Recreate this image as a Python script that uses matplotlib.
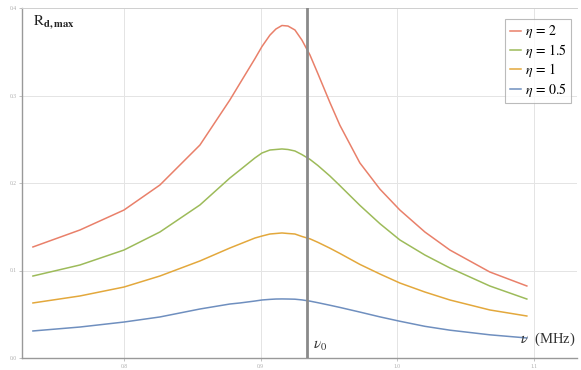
import matplotlib
matplotlib.use("Agg")
import matplotlib.pyplot as plt

plt.rcParams['font.family'] = ['Liberation Serif', 'DejaVu Serif']
plt.rcParams['mathtext.fontset'] = 'stix'

nu = [0.7334, 0.7678, 0.8, 0.8263, 0.8556, 0.8775, 0.8849, 0.8958, 0.9010, 0.9068,
      0.9112, 0.9156, 0.9200, 0.9251, 0.9302, 0.9361, 0.9419, 0.9507, 0.9580, 0.9726,
      0.9873, 1.0019, 1.0202, 1.0385, 1.0677, 1.0948]
r_eta2 = [0.1269, 0.1463, 0.1691, 0.1977, 0.2434, 0.2949, 0.3140, 0.3420, 0.3560, 0.3690,
          0.3760, 0.3800, 0.3794, 0.3749, 0.3634, 0.3463, 0.3250, 0.2920, 0.2660, 0.2230,
          0.1930, 0.1691, 0.1440, 0.1234, 0.0983, 0.0823]
r_eta15 = [0.0937, 0.1063, 0.1234, 0.1440, 0.1749, 0.2057, 0.2149, 0.2286, 0.2343, 0.2377,
           0.2383, 0.2389, 0.2383, 0.2366, 0.2325, 0.2270, 0.2200, 0.2080, 0.1970, 0.1745,
           0.1535, 0.1349, 0.1177, 0.1029, 0.0823, 0.0674]
r_eta1 = [0.0629, 0.0709, 0.0811, 0.0937, 0.1109, 0.1257, 0.1303, 0.1371, 0.1394, 0.1417,
          0.1423, 0.1429, 0.1423, 0.1417, 0.1389, 0.1362, 0.1322, 0.1255, 0.1195, 0.1070,
          0.0960, 0.0857, 0.0754, 0.0663, 0.0549, 0.0480]
r_eta05 = [0.0309, 0.0354, 0.0411, 0.0469, 0.0560, 0.0617, 0.0629, 0.0651, 0.0663, 0.0670,
           0.0674, 0.0675, 0.0674, 0.0672, 0.0664, 0.0650, 0.0632, 0.0603, 0.0578, 0.0525,
           0.0470, 0.0420, 0.0362, 0.0318, 0.0265, 0.0229]
labels = [r'$\eta\,=\,2$', r'$\eta\,=\,1.5$', r'$\eta\,=\,1$', r'$\eta\,=\,0.5$']
colors = ['#E9806A', '#9DBB5A', '#E3A83C', '#6F8FBF']
nu0 = 0.934
xticks = [0.8, 0.9, 1.0, 1.1]
yticks = [0.0, 0.1, 0.2, 0.3, 0.4]

W, H = 581, 370
fig = plt.figure(figsize=(W / 100, H / 100), dpi=100)
ax = fig.add_axes([22 / W, 1 - 358 / H, (577 - 22) / W, (358 - 8) / H])

for r, c, lab in zip([r_eta2, r_eta15, r_eta1, r_eta05], colors, labels):
    ax.plot(nu, r, color=c, lw=1.1, label=lab, solid_joinstyle='round')

ax.axvline(nu0, color='#8a8a8a', lw=2.0, zorder=3)

ax.set_xlim(0.7254, 1.1315)
ax.set_ylim(0.0, 0.4)
ax.set_xticks(xticks)
ax.set_yticks(yticks)
ax.set_xticklabels([f'{t:.1f}' for t in xticks])
ax.set_yticklabels([f'{t:.1f}' for t in yticks])
ax.tick_params(labelsize=4, colors='#aaaaaa', length=2, width=0.5, pad=2)
ax.grid(True, color='#e4e4e4', lw=0.7)
for s in ['left', 'bottom']:
    ax.spines[s].set_color('#999999')
    ax.spines[s].set_linewidth(1.0)
ax.spines['top'].set_color('#d0d0d0')
ax.spines['top'].set_linewidth(0.7)
ax.spines['right'].set_visible(False)

ax.text(0.02, 0.985, r'$\mathrm{R}_{\mathbf{d,max}}$', transform=ax.transAxes,
        ha='left', va='top', fontsize=11, color='#222222')
ax.text(nu0 + 0.004, 0.006, r'$\nu_0$', ha='left', va='bottom', fontsize=11, color='#333333')
ax.text(0.997, 0.03, r'$\nu$  (MHz)', transform=ax.transAxes,
        ha='right', va='bottom', fontsize=10.5, color='#333333')

leg = ax.legend(loc='upper right', bbox_to_anchor=(0.99, 0.97), fontsize=10,
                frameon=True, fancybox=False, handlelength=0.8, handletextpad=0.25,
                borderpad=0.35, labelspacing=0.1, borderaxespad=0.0)
leg.get_frame().set_edgecolor('#aaaaaa')
leg.get_frame().set_linewidth(0.8)

fig.savefig('out.png', dpi=100)
